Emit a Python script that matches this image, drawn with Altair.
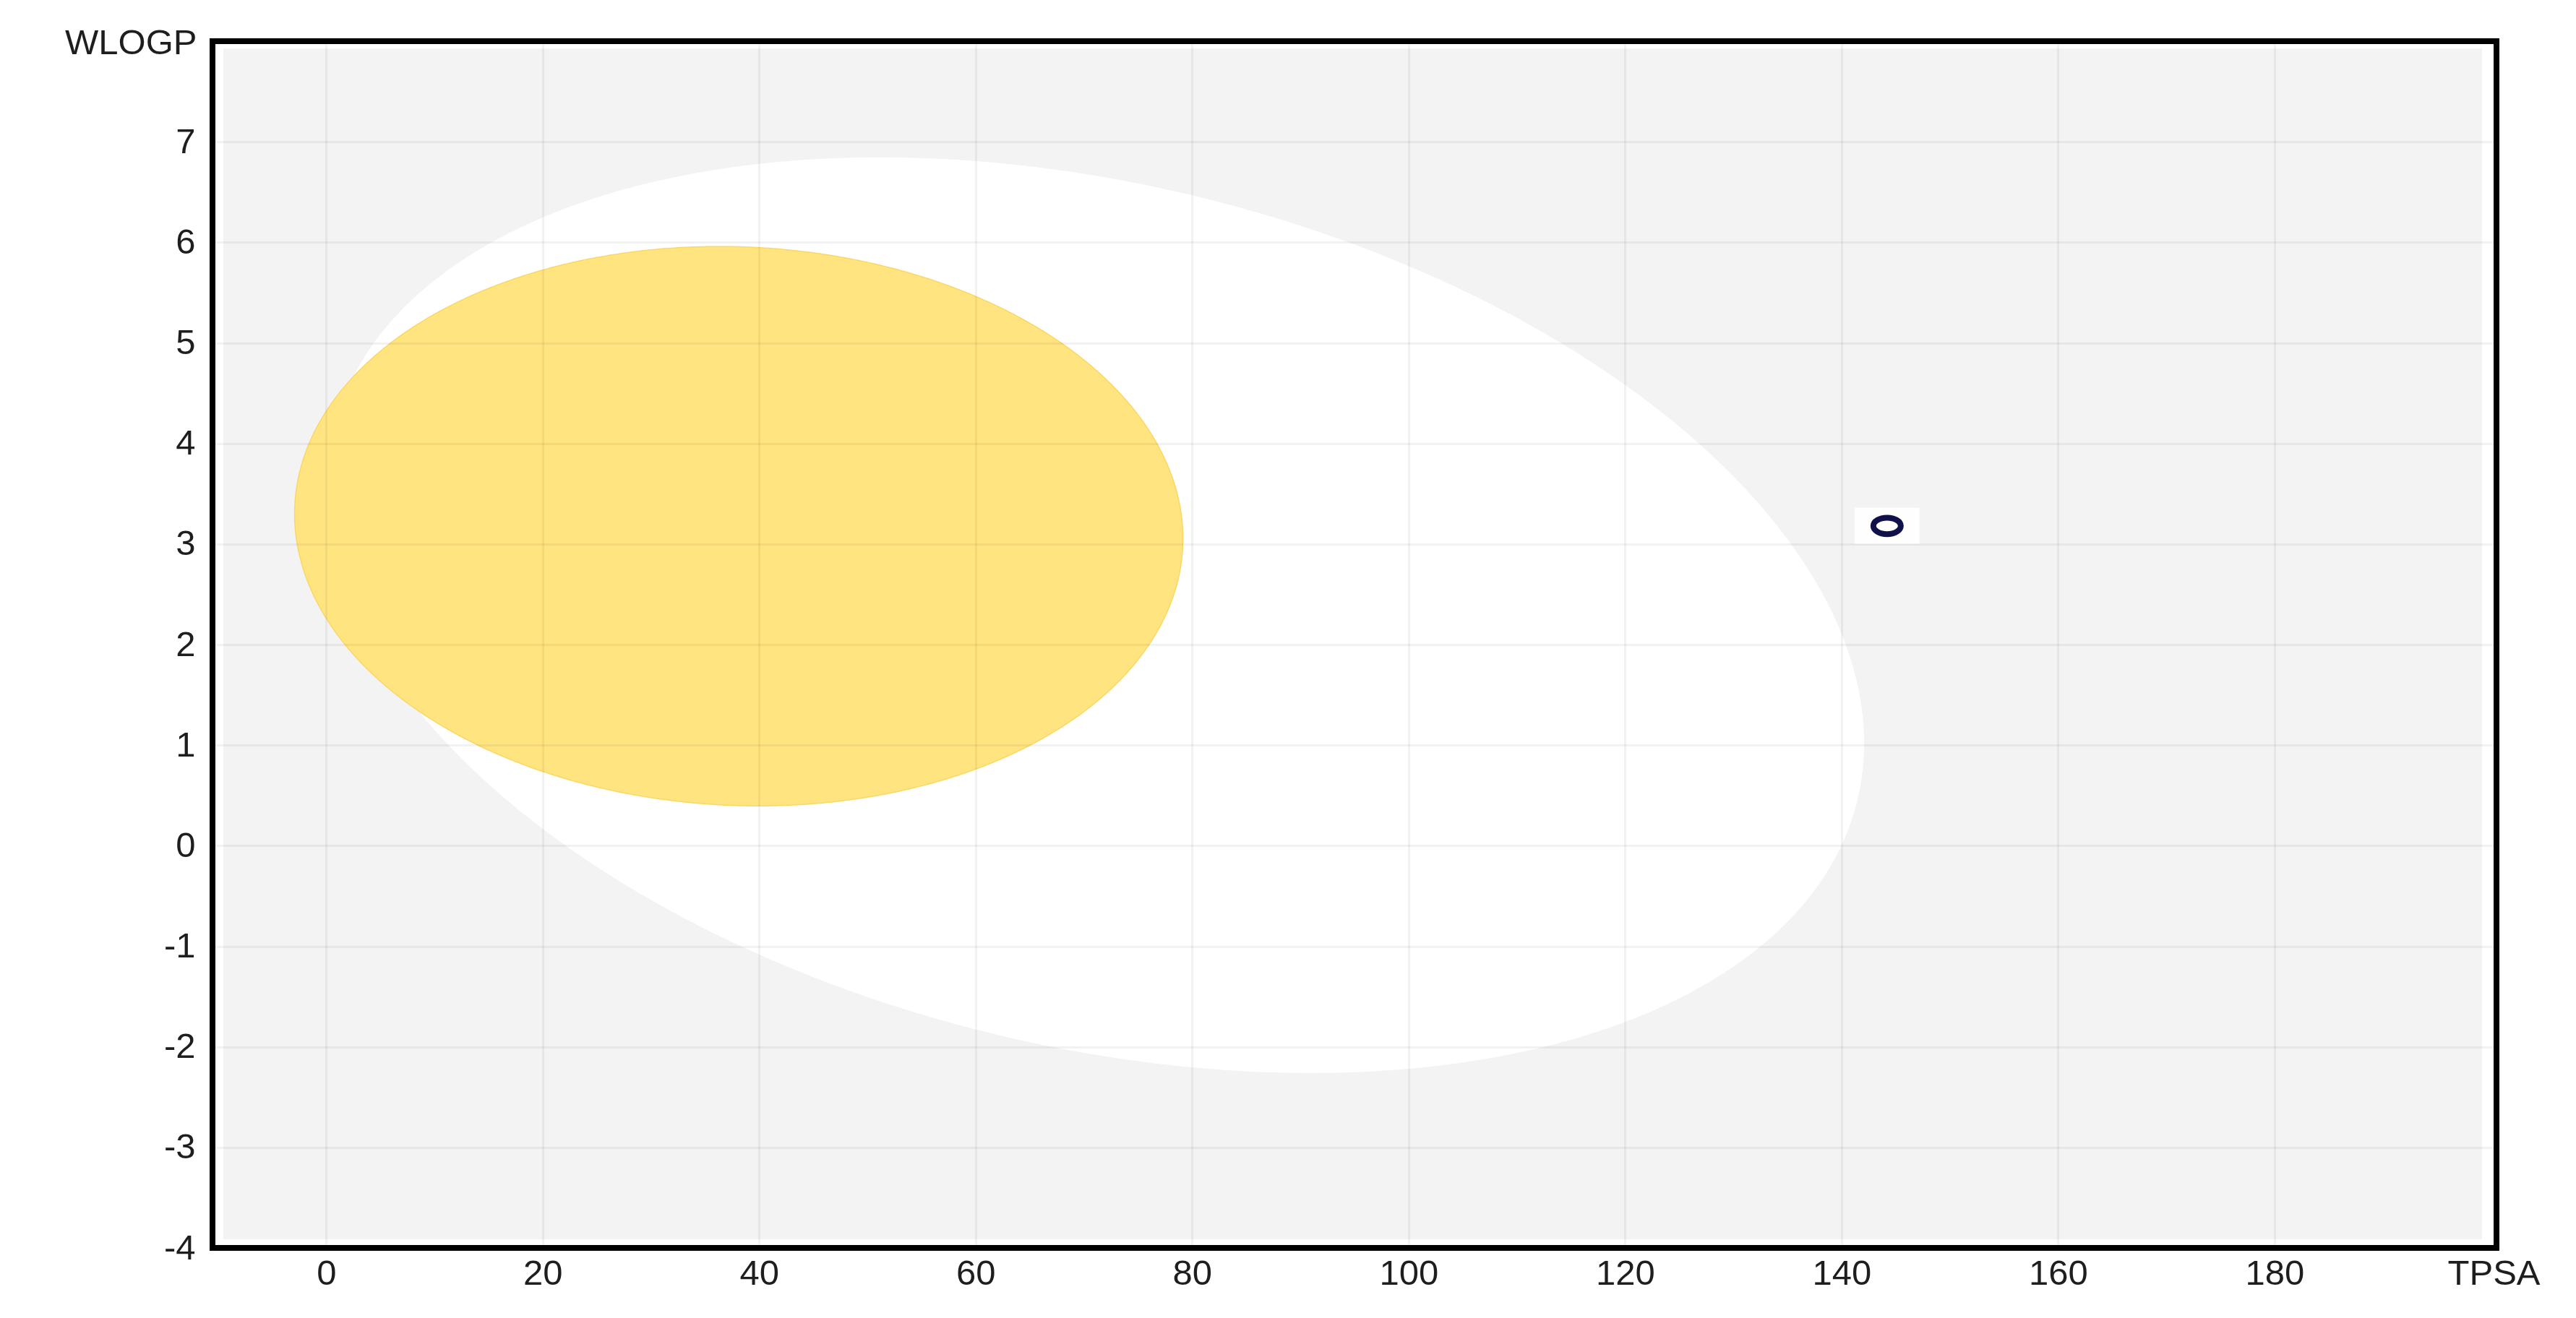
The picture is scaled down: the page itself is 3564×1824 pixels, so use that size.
import math
import altair as alt
import pandas as pd

# ---- data ----
# Ellipse parameters (centre TPSA, centre WLOGP, full major axis, full minor axis, angle in degrees)
ellipse_names = ["HIA (white)", "BBB (yolk)"]
ellipse_x0 = [71.051, 38.117]
ellipse_y0 = [2.292, 3.177]
ellipse_a = [142.081, 82.061]
ellipse_b = [8.740, 5.557]
ellipse_angle = [-1.031325, -0.171887]

# Molecule point
mol_tpsa = [144.2]
mol_wlogp = [3.18]

x_ticks = [0, 20, 40, 60, 80, 100, 120, 140, 160, 180]
y_ticks = [-4, -3, -2, -1, 0, 1, 2, 3, 4, 5, 6, 7]
x_domain = [-10.5, 200.5]
y_domain = [-4, 8]


def ellipse_outline(x0, y0, a, b, angle_deg, n=600):
    A, B = a / 2.0, b / 2.0
    t = math.radians(angle_deg)
    s, c = math.sin(t), math.cos(t)
    ex = math.sqrt(A * A * c * c + B * B * s * s)
    qa = s * s / (A * A) + c * c / (B * B)
    rows = []
    for i in range(n + 1):
        dx = ex * math.cos(math.pi - math.pi * i / n)
        qb = 2 * dx * s * c * (1 / (A * A) - 1 / (B * B))
        qc = dx * dx * (c * c / (A * A) + s * s / (B * B)) - 1
        disc = max(qb * qb - 4 * qa * qc, 0.0)
        r = math.sqrt(disc)
        y1 = y0 + (-qb - r) / (2 * qa)
        y2 = y0 + (-qb + r) / (2 * qa)
        rows.append({"TPSA": x0 + dx, "lo": y1, "hi": y2})
    return pd.DataFrame(rows)


W, H = 3160, 1670
FONT = "Liberation Sans"
FS = 49

xs = alt.Scale(domain=x_domain, nice=False, zero=False)
ys = alt.Scale(domain=y_domain, nice=False, zero=False)

x_axis = alt.Axis(
    values=x_ticks, title="TPSA", grid=True, domain=False, ticks=False, tickSize=0,
    labelExpr="'' + datum.value",
    labelFont=FONT, labelFontSize=FS, labelColor="#1e1e1e", labelPadding=11,
    titleFont=FONT, titleFontSize=FS, titleFontWeight="normal", titleColor="#1e1e1e",
    titleAlign="center", titleBaseline="alphabetic", titleX=W - 4, titleY=50,
    gridColor="#000000", gridOpacity=0.05, gridWidth=3, zindex=1,
)
y_axis = alt.Axis(
    values=y_ticks, title="WLOGP", grid=True, domain=False, ticks=False, tickSize=0,
    labelExpr="'' + datum.value",
    labelFont=FONT, labelFontSize=FS, labelColor="#1e1e1e", labelPadding=24,
    titleFont=FONT, titleFontSize=FS, titleFontWeight="normal", titleColor="#1e1e1e",
    titleAngle=0, titleAlign="right", titleBaseline="alphabetic", titleX=-22, titleY=17,
    gridColor="#000000", gridOpacity=0.05, gridWidth=3, zindex=1,
)

bg = alt.Chart(alt.Data(values=[{"k": 1}])).mark_rect(color="#f3f3f3").encode(
    x=alt.value(15), x2=alt.value(W - 20), y=alt.value(10), y2=alt.value(H - 12)
)

white_df = ellipse_outline(ellipse_x0[0], ellipse_y0[0], ellipse_a[0], ellipse_b[0], ellipse_angle[0])
yolk_df = ellipse_outline(ellipse_x0[1], ellipse_y0[1], ellipse_a[1], ellipse_b[1], ellipse_angle[1])

white = alt.Chart(white_df).mark_area(color="#ffffff", opacity=1).encode(
    x=alt.X("TPSA:Q", scale=xs, axis=x_axis),
    y=alt.Y("lo:Q", scale=ys, axis=y_axis),
    y2="hi:Q",
)
yolk = alt.Chart(yolk_df).mark_area(color="#ffe480", opacity=1, stroke="#fbd764", strokeWidth=1.5).encode(
    x=alt.X("TPSA:Q", scale=xs),
    y=alt.Y("lo:Q", scale=ys),
    y2="hi:Q",
)

pt_df = pd.DataFrame({"TPSA": mol_tpsa, "WLOGP": mol_wlogp})
halo = alt.Chart(pt_df).mark_point(
    shape="M-1,-0.56H1V0.56H-1Z", size=8100, filled=True, fill="#ffffff", opacity=0.9, strokeWidth=0
).encode(x=alt.X("TPSA:Q", scale=xs), y=alt.Y("WLOGP:Q", scale=ys))
pt = alt.Chart(pt_df).mark_point(
    shape="M-1,0A1,0.6,0,1,1,1,0A1,0.6,0,1,1,-1,0Z", size=1444, filled=False,
    stroke="#10104a", strokeWidth=8, opacity=1
).encode(x=alt.X("TPSA:Q", scale=xs), y=alt.Y("WLOGP:Q", scale=ys))

chart = alt.layer(bg, white, yolk, halo, pt).properties(
    width=W, height=H,
    autosize=alt.AutoSizeParams(type="none"),
    padding={"left": 286, "top": 49, "right": 100, "bottom": 80},
    background="#ffffff",
).configure_view(stroke="#000000", strokeWidth=8, fill="#ffffff")

chart.save("out.html", embed_options={"renderer": "svg", "actions": False})
